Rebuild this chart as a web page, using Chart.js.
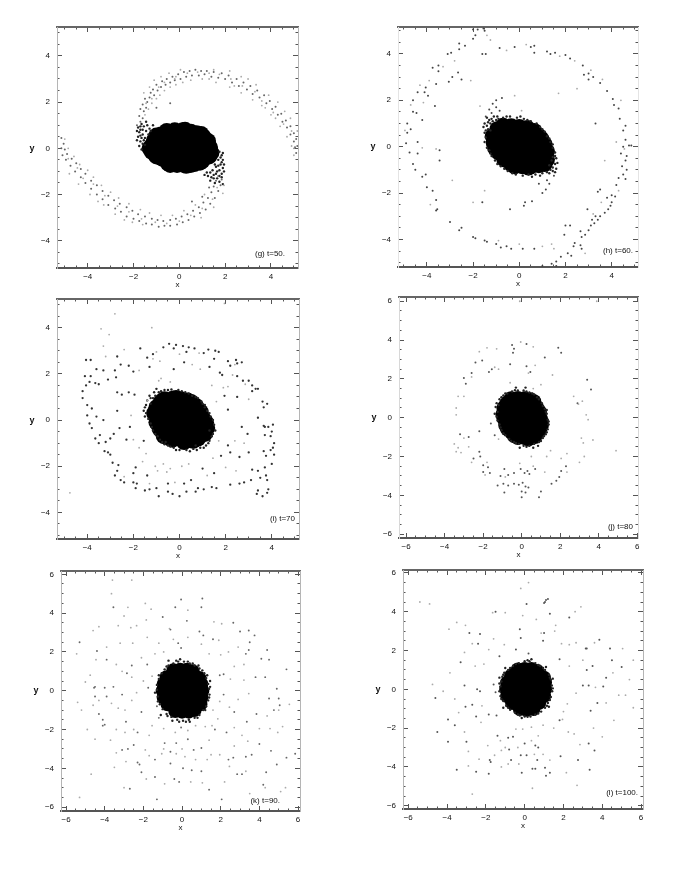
<!DOCTYPE html>
<html>
<head>
<meta charset="utf-8">
<title>t=50 to t=100</title>
<script src="https://cdn.jsdelivr.net/npm/chart.js@4"></script>
<style>
  html, body { margin: 0; background: #fff; }
  body { position: relative; width: 694px; height: 872px; overflow: hidden; }
  canvas { position: absolute; filter: blur(0.5px); }
</style>
</head>
<body>
<script>
// tick values and labels
const majorShort = [-4, -2, 0, 2, 4];
const majorLong = [-6, -4, -2, 0, 2, 4, 6];
const minorShort = [-5, -4.5, -3.5, -3, -2.5, -1.5, -1, -0.5, 0.5, 1, 1.5, 2.5, 3, 3.5, 4.5, 5];
const minorLong = [-5.5, -5, -4.5, -3.5, -3, -2.5, -1.5, -1, -0.5, 0.5, 1, 1.5, 2.5, 3, 3.5, 4.5, 5, 5.5];
const tickLabels = { '-6': '\u22126', '-4': '\u22124', '-2': '\u22122', '0': '0', '2': '2', '4': '4', '6': '6' };

// (g) t=50
const gCore = [[-0.55,0.75],[-0.2,0.78],[0.15,0.78],[0.5,0.72],[0.75,0.65],[-1.1,0.35],[-0.8,0.35],[-0.4,0.35],[0,0.35],[0.4,0.35],[0.8,0.35],[1.1,0.3],[-1.3,0],[-1,0],[-0.6,0],[-0.2,0],[0.2,0],[0.6,0],[1,0],[1.35,-0.05],[-1.0,-0.35],[-0.6,-0.35],[-0.2,-0.35],[0.2,-0.35],[0.6,-0.35],[1.0,-0.35],[1.3,-0.35],[-0.4,-0.72],[-0.1,-0.72],[0.2,-0.72],[0.5,-0.72],[0.9,-0.62],
  [-1.25,0.05],[-1.2,-0.15],[-0.75,-0.45],[-0.5,-0.65],[0.3,-0.76],[0.65,-0.68],[1.0,-0.55],[1.4,-0.2],[1.33,0.05],[1.25,0.2],[0.85,0.6],[0.25,0.8],[-0.8,0.6],[-1.0,0.55],[-1.15,0.2],[1.05,0.5],[0.95,0.62],[1.25,0.32]];
const gEdge = [[-1.8,0.9],[-1.75,0.7],[-1.8,0.5],[-1.7,0.3],[-1.75,0.1],[-1.65,-0.05],[-1.6,0.6],[-1.55,0.95],[-1.4,1.0],[-1.6,0.2],[-1.5,0.45],[-1.3,0.85],[-1.15,1.0],[-1.45,0.75],[-1.7,0.95],[-1.6,0.8],[-1.55,0.35],[-1.35,0.6],[1.85,-0.3],[1.9,-0.5],[1.8,-0.7],[1.9,-0.85],[1.75,-0.95],[1.85,-1.1],[1.6,-0.8],[1.65,-1.0],[1.45,-0.95],[1.5,-1.15],[1.35,-1.05],[1.7,-0.5],[1.75,-0.15],[1.25,-1.2],[1.65,-1.3],[1.8,-0.4],[1.55,-0.7],[1.7,-0.75],[1.75,-1.2],[1.5,-1.3],[-1.65,0.45],[-1.5,0.15],[-1.25,0.75],
  [1.9,-0.2],[1.85,-0.6],[1.95,-0.7],[1.95,-1.0],[1.85,-1.25],[1.6,-1.1],[1.4,-1.25],[1.2,-1.05],[1.1,-1.15],[1.35,-1.4],[1.55,-1.5],[1.75,-1.45],[1.9,-1.55],[-1.85,0.75],[-1.85,0.35],[-1.7,0.55],[-1.7,0.8],[-1.65,1.05],[-1.45,1.15]];
const gDots = [[-1.85,1.0],[-1.7,1.15],[-1.75,1.4],[-1.6,1.3],[-1.55,1.6],[-1.7,1.7],[-1.45,1.75],[-1.6,1.9],[-1.4,2.0],[-1.5,2.15],[-1.3,2.2],[-1.25,2.4],[-1.1,2.3],[-1.15,2.55],[-0.95,2.5],[-1.0,2.75],[-0.8,2.65],[-0.75,2.9],[-0.6,2.75],[-0.55,3.0],[-0.4,2.85],[-0.3,3.1],[-0.2,2.95],[-0.05,3.2],[0.05,3.0],[0.2,3.3],[0.3,3.1],[0.45,3.35],[0.55,3.15],[0.7,3.4],[0.85,3.15],[0.95,3.35],[1.1,3.2],[1.2,3.35],[1.4,3.1],[1.5,3.3],[1.7,3.05],[1.85,3.25],[2.0,3.0],[2.15,3.15],[2.3,2.85],[2.5,3.0],[2.6,2.7],[2.8,2.85],[2.95,2.55],[3.1,2.7],[3.2,2.35],[3.4,2.5],[3.5,2.2],[3.7,2.3],[3.8,1.95],[3.95,2.05],[4.05,1.7],[4.2,1.8],[4.3,1.45],[4.45,1.5],[4.5,1.15],[4.65,1.2],[4.7,0.9],[4.85,0.95],[4.85,0.6],[5.0,0.65],[5.0,0.3],[5.1,0.4],[5.05,0.05],[5.15,0.1],[5.1,-0.2],
  [-5.15,0.45],[-5.05,0.2],[-5.15,0.0],[-5.0,-0.05],[-5.1,-0.3],[-4.9,-0.25],[-4.95,-0.5],[-4.7,-0.45],[-4.75,-0.75],[-4.5,-0.65],[-4.55,-1.0],[-4.3,-0.9],[-4.3,-1.25],[-4.1,-1.1],[-4.1,-1.5],[-3.85,-1.4],[-3.85,-1.75],[-3.6,-1.6],[-3.6,-2.0],[-3.35,-1.85],[-3.35,-2.2],[-3.1,-2.05],[-3.1,-2.45],[-2.85,-2.25],[-2.8,-2.6],[-2.6,-2.4],[-2.55,-2.75],[-2.3,-2.55],[-2.3,-2.95],[-2.05,-2.7],[-2.0,-3.05],[-1.8,-2.85],[-1.75,-3.15],[-1.5,-2.95],[-1.45,-3.25],[-1.2,-3.05],[-1.2,-3.3],[-0.95,-3.1],[-0.9,-3.4],[-0.7,-3.15],[-0.65,-3.35],[-0.4,-3.1],[-0.4,-3.35],[-0.15,-3.05],[-0.1,-3.3],[0.1,-2.95],[0.15,-3.2],[0.35,-2.85],[0.4,-3.1],[0.6,-2.7],[0.65,-2.95],[0.85,-2.55],[0.9,-2.8],[1.05,-2.35],[1.15,-2.65],[1.25,-2.15],[1.35,-2.4],[1.4,-1.9],[1.55,-2.15],[1.5,-1.65],[1.7,-1.85],[1.6,-1.4],[1.8,-1.6],[1.7,-1.2],[1.85,-1.35],[1.3,-1.7],[1.0,-2.1],[0.55,-2.3],[-0.4,1.95],[-1.0,1.75]];
const gFaint = [[-1.35,1.7],[-1.2,1.95],[-1.0,2.15],[-0.85,2.3],[-0.65,2.5],[-0.4,2.65],[-0.15,2.75],[0.15,2.85],[0.5,2.95],[1.0,3.0],[1.6,2.85],[2.2,2.65],[2.7,2.4],[3.2,2.1],[3.6,1.85],[4.0,1.45],[4.4,0.95],[4.7,0.5],[4.9,0.1],[5.0,-0.3],[-5.0,0.4],[-4.85,0.0],[-4.6,-0.35],[-4.35,-0.7],[-4.0,-0.95],[-3.75,-1.25],[-3.4,-1.6],[-3.0,-1.9],[-2.65,-2.15],[-2.2,-2.4],[-1.7,-2.65],[-1.3,-2.8],[-0.8,-2.9],[-0.3,-2.9],[0.2,-2.7],[0.7,-2.45],[1.1,-2.0],[-3.3,-2.45],[-2.8,-2.85],[-2.4,-3.1],[-1.6,-3.3],[2.2,3.35],[3.0,3.0],[3.9,2.3],[4.6,1.6],[-4.8,-1.1],[-4.4,-1.55],[-1.55,2.4],[-1.3,2.65],[-1.1,2.95],[-0.8,3.1],[-0.45,3.25],[0.05,3.4],[1.5,3.4],[2.7,3.1],[3.35,2.75],[4.3,2.0],[4.85,1.3],[5.15,0.75],[-3.9,-2.0],[-3.55,-2.3],[-2.05,-3.2],[0.95,-3.0],[1.5,-2.55],[1.9,-1.95],[1.95,-1.6],[-0.2,3.0],[1.3,3.0],[2.4,2.7],[3.75,1.75],[4.2,1.3],
  [-1.5,1.45],[-1.45,1.95],[-1.2,2.15],[-0.9,2.65],[-0.65,2.85],[-0.15,3.1],[0.35,3.25],[0.8,3.3],[1.3,3.25],[1.75,3.2],[2.25,3.0],[2.75,2.7],[3.3,2.45],[3.6,2.05],[4.1,1.55],[4.55,1.05],[4.9,0.75],[5.0,0.0],[-4.85,-0.45],[-4.45,-0.85],[-4.2,-1.3],[-3.75,-1.55],[-3.25,-2.05],[-2.7,-2.5],[-2.2,-2.75],[-1.65,-3.05],[-1.05,-3.2],[-0.55,-3.25],[0.0,-3.15],[0.5,-2.9],[1.0,-2.6],[1.45,-2.2],[1.65,-1.7]];

// (h) t=60
const hCore = [[-0.7,0.85],[-0.35,0.88],[0,0.85],[0.35,0.8],[-1.05,0.5],[-0.7,0.5],[-0.3,0.5],[0.1,0.5],[0.5,0.5],[0.8,0.45],[-1.1,0.15],[-0.7,0.15],[-0.3,0.15],[0.1,0.15],[0.5,0.15],[0.9,0.15],[1.05,0.05],[-0.85,-0.2],[-0.5,-0.2],[-0.1,-0.2],[0.3,-0.2],[0.7,-0.2],[1.1,-0.2],[-0.6,-0.55],[-0.2,-0.55],[0.2,-0.55],[0.6,-0.55],[1.0,-0.55],[1.15,-0.45],[-0.2,-0.85],[0.15,-0.85],[0.5,-0.85],[0.85,-0.8],
  [-1.15,0.45],[-0.95,0.75],[-0.7,0.9],[0.35,0.72],[0.65,0.68],[0.85,0.45],[1.2,-0.2],[1.2,-0.55],[1.1,-0.75],[0.4,-0.9],[-0.35,-0.75],[-0.65,-0.55],[-0.9,-0.25],[-1.05,-0.05],[-1.1,0.2],[0.95,0.35],[1.1,0.1]];
const hEdge = [[-1.5,0.6],[-1.45,0.4],[-1.5,0.2],[-1.4,0.9],[-1.5,1.0],[-1.3,1.15],[-1.4,1.25],[-1.15,1.1],[-1.1,1.3],[-0.9,1.2],[-0.7,1.25],[-0.4,1.3],[-0.1,1.25],[0.2,1.2],[0.5,1.1],[0.75,1.0],[1.0,0.75],[1.2,0.45],[1.35,0.2],[1.45,-0.05],[1.55,-0.25],[1.6,-0.5],[1.55,-0.75],[1.6,-0.95],[1.45,-0.9],[1.35,-1.0],[1.55,-1.1],[1.2,-1.1],[1.0,-1.15],[0.7,-1.2],[0.4,-1.2],[0.15,-1.25],[-0.15,-1.2],[-0.5,-1.05],[-0.8,-0.85],[-1.05,-0.6],[-1.2,-0.4],[-1.3,-0.15],[-1.25,0.7],[1.4,-0.6],[1.3,-0.8],[1.45,-0.45],[-1.35,0.75],[-1.25,1.0],[-1.0,1.15],
  [-1.55,0.85],[-1.45,0.7],[-1.35,1.05],[-1.2,1.2],[-0.95,1.3],[-0.55,1.3],[0.05,1.3],[0.35,1.15],[0.9,0.85],[1.1,0.65],[1.3,0.35],[1.45,0.1],[1.55,-0.4],[1.65,-0.7],[1.45,-1.05],[1.3,-1.15],[0.9,-1.25],[0.55,-1.3],[-0.3,-1.15],[-0.65,-0.95],[-0.95,-0.75],[-1.25,-0.3],[-1.4,-0.05]];
const hDots = [[-2.0,5.05],[-1.8,5.05],[-1.55,5.1],[-1.5,5.0],[-1.9,4.8],[-2.0,4.65],[-2.6,4.45],[-2.35,4.35],[-2.6,4.2],[-2.95,4.05],[-3.1,4.0],[-1.6,4.0],[-1.45,4.0],[-0.85,4.25],[-0.2,4.3],[0.5,4.3],[0.65,4.35],[0.65,4.05],[1.2,4.1],[1.55,4.05],[1.35,4.0],[2.0,3.95],[2.2,3.8],[2.75,3.5],[2.8,3.1],[3.0,3.15],[3.2,3.0],[3.0,2.9],[3.5,2.75],[3.8,2.4],[4.05,2.05],[4.1,1.8],[4.3,1.65],[4.35,1.2],[4.6,0.9],[4.5,0.7],[4.6,0.3],[4.75,0.05],[4.5,0.0],[4.85,0.05],[4.4,-0.3],[4.65,-0.4],[4.6,-0.6],[4.45,-0.85],[4.65,-1.0],[4.5,-1.2],[4.3,-1.35],[4.6,-1.4],[4.2,-1.65],[4.0,-2.1],[4.15,-2.15],[3.8,-2.2],[4.0,-2.4],[3.95,-2.55],[3.85,-2.7],[3.7,-2.85],[3.5,-3.0],[3.4,-3.15],[3.3,-3.0],[3.15,-3.15],[3.25,-3.3],[3.1,-3.4],[2.95,-2.7],[3.0,-3.6],[2.85,-3.8],[2.65,-3.65],[2.7,-3.9],[2.0,-3.4],[2.2,-3.4],[1.95,-3.8],[2.4,-4.15],[2.35,-4.3],[2.65,-4.25],[2.7,-4.4],[2.1,-4.6],[2.25,-4.7],[1.8,-4.75],[1.6,-4.95],[1.4,-5.05],[1.6,-5.15],[1.0,-5.15],[3.5,-1.85],[3.4,-1.95],[3.3,1.0],
  [-3.0,-3.25],[-2.5,-3.5],[-2.6,-3.6],[-2.0,-3.9],[-1.9,-3.95],[-1.5,-4.05],[-1.4,-4.1],[-1.0,-4.2],[-0.8,-4.35],[-0.55,-4.3],[-0.35,-4.4],[0.15,-4.4],[0.65,-4.4],[-1.6,-2.4],[-0.4,-2.7],[0.2,-2.55],[0.25,-2.4],[0.55,-2.35],[1.0,-2.0],[1.15,-1.85],[1.2,-1.45],[0.85,-1.6],[1.3,-1.6],[1.5,-1.25],[-0.75,2.1],[-1.0,2.0],[-1.15,1.85],[-1.3,1.6],[-1.0,1.7],[-1.2,1.45],[-0.85,1.55],[-1.45,1.3],
  [-4.9,0.15],[-4.75,-0.25],[-4.4,-0.3],[-4.6,-0.75],[-4.5,-1.0],[-4.2,-1.3],[-4.05,-1.2],[-4.0,-1.75],[-3.75,-1.9],[-3.6,-2.3],[-3.55,-2.7],[-3.6,-2.75],[-4.85,0.6],[-4.7,0.75],[-4.85,1.0],[-4.6,1.5],[-4.45,1.45],[-4.2,1.15],[-4.6,2.0],[-4.4,2.35],[-4.1,2.35],[-4.05,2.55],[-3.95,2.2],[-3.6,2.7],[-3.75,3.4],[-3.5,3.5],[-3.05,2.8],[-2.9,3.0],[-2.65,3.2],[-2.5,2.9],[-3.65,1.75],[-3.45,-0.6],[-3.45,-0.15],[-3.5,3.25],[-4.4,0.2]];
const hFaint = [[-1.25,4.6],[-1.4,4.8],[-2.8,3.7],[-3.3,3.45],[-3.9,2.85],[-4.3,2.65],[-4.7,1.8],[-4.95,0.7],[-4.2,-0.05],[-3.6,-0.1],[-2.9,-1.45],[-3.85,-2.5],[-2.0,-2.4],[-0.9,-4.05],[0.0,-4.2],[1.0,-4.3],[1.4,-4.2],[0.3,4.4],[-0.55,4.15],[1.75,3.9],[2.4,3.7],[3.1,3.3],[3.6,2.9],[2.5,2.5],[1.7,2.3],[4.4,2.0],[4.55,-0.1],[4.2,0.2],[3.7,-0.6],[4.3,-1.9],[3.55,-2.4],[3.2,-2.9],[1.5,-4.4],[2.85,-4.6],[0.1,1.55],[-1.7,1.75],[-0.2,2.2],[-1.5,-1.9],[-2.1,2.85],[-4.15,1.9]];

// (i) t=70
const iCore = [[-0.65,0.9],[-0.3,0.92],[0.05,0.9],[0.35,0.85],[-1.0,0.55],[-0.65,0.55],[-0.25,0.55],[0.15,0.55],[0.55,0.55],[0.75,0.5],[-1.05,0.2],[-0.7,0.2],[-0.3,0.2],[0.1,0.2],[0.5,0.2],[0.9,0.2],[1.0,0.1],[-0.95,-0.15],[-0.55,-0.15],[-0.15,-0.15],[0.25,-0.15],[0.65,-0.15],[1.1,-0.15],[-0.7,-0.5],[-0.3,-0.5],[0.1,-0.5],[0.5,-0.5],[0.9,-0.5],[1.1,-0.4],[-0.3,-0.85],[0.1,-0.85],[0.45,-0.85],[0.8,-0.8],
  [-1.1,0.3],[-0.8,0.8],[-0.15,0.95],[0.5,0.78],[0.7,0.62],[0.92,0.35],[1.15,-0.1],[1.2,-0.35],[1.1,-0.6],[0.6,-0.9],[0.2,-0.95],[-0.4,-0.8],[-0.85,-0.4],[-1.0,-0.1],[-0.68,-0.7]];
const iEdge = [[-1.45,0.3],[-1.5,0.55],[-1.4,0.85],[-1.3,1.05],[-1.1,1.2],[-0.9,1.2],[-0.65,1.3],[-0.35,1.32],[-0.05,1.3],[0.25,1.2],[0.55,1.05],[0.8,0.95],[1.0,0.7],[1.2,0.4],[1.35,0.15],[1.5,-0.2],[1.55,-0.45],[1.4,-0.7],[1.3,-0.9],[1.15,-1.1],[0.9,-1.2],[0.6,-1.25],[0.3,-1.3],[0,-1.3],[-0.25,-1.2],[-0.5,-1.1],[-0.75,-0.95],[-0.95,-0.7],[-1.15,-0.45],[-1.25,-0.15],[-1.35,0.05],[-1.25,0.7],[-1.0,1.35],[1.3,-0.45],[-1.15,0.95],[1.1,0.55],[0.7,-1.1],[-0.6,-0.95],
  [-1.5,0.15],[-1.55,0.4],[-1.45,0.65],[-1.25,0.95],[-1.05,1.05],[-0.8,1.25],[-0.5,1.3],[0.1,1.25],[0.4,1.15],[0.7,1.0],[0.95,0.8],[1.1,0.65],[1.3,0.3],[1.45,0.0],[1.45,-0.6],[1.25,-1.0],[1.05,-1.2],[0.75,-1.3],[0.45,-1.35],[-0.15,-1.3],[-0.4,-1.15],[-0.65,-1.05],[-0.85,-0.85],[-1.05,-0.6],[-1.2,-0.3]];
const iDots = [[-0.45,3.3],[-0.15,3.25],[0.15,3.2],[0.4,3.15],[0.65,3.1],[1.25,3.05],[1.7,2.95],[-0.7,3.15],[-0.25,3.1],[0.3,2.95],[1.05,2.9],[1.5,2.65],[1.55,3.0],[2.1,2.55],[2.45,2.6],[2.5,2.45],[2.7,2.5],[2.2,2.35],[-1.7,3.1],[-1.15,2.85],[-1.4,2.7],[-2.7,2.75],[-2.55,2.4],[-2.2,2.35],[-2.8,2.15],[-2.75,1.85],[-2.0,2.1],[-1.3,2.3],[-0.25,2.2],[0.2,2.5],[1.3,2.3],[1.75,2.05],[1.85,1.95],[2.5,1.9],[2.75,1.7],[3.0,1.7],[3.15,1.5],[3.3,1.35],[3.4,1.35],[3.15,1.25],[1.95,1.05],[2.5,1.0],[3.6,0.8],[3.8,0.7],[3.65,0.55],[3.4,0.1],[3.65,-0.25],[3.85,-0.3],[3.7,-0.3],[4.05,-0.2],[4.0,-0.5],[3.7,-0.65],[3.95,-0.7],[4.1,-1.0],[4.05,-1.2],[3.95,-1.3],[4.1,-1.5],[3.65,-1.35],[3.75,-1.55],[4.0,-1.9],[3.7,-2.05],[3.4,-2.2],[3.15,-2.15],[3.5,-2.5],[3.1,-2.6],[2.8,-2.7],[3.75,-2.4],[3.8,-2.6],[3.85,-3.0],[3.4,-3.05],[3.35,-3.2],[3.6,-3.3],[3.8,-3.15],[2.2,-2.8],[2.6,-2.75],[1.6,-2.95],[1.4,-2.9],[1.05,-3.0],[0.8,-2.95],[0.7,-3.1],[0.0,-3.3],[0.3,-3.1],[-0.3,-3.2],[-0.5,-3.1],[-0.9,-3.3],[-1.0,-2.95],[-1.3,-3.0],[-1.5,-3.05],[-1.9,-2.95],[-2.0,-2.7],[-2.4,-2.7],[-2.0,-2.3],[-2.7,-2.2],[-2.65,-1.95],[-2.9,-1.85],[-3.0,-1.5],[-3.1,-1.4],[-3.25,-1.35],[-3.5,-1.0],[-3.65,-0.8],[-3.45,-0.65],[-3.8,-0.35],[-3.9,-0.15],[-4.0,0.2],[-3.6,0.15],[-3.3,0],[-3.8,0.5],[-4.0,0.65],[-4.2,0.95],[-4.2,1.25],[-4.05,1.5],[-3.9,1.65],[-3.65,1.6],[-3.85,1.9],[-4.1,1.9],[-4.05,2.6],[-3.85,2.6],[-3.6,2.2],[-3.5,1.55],[-3.3,2.15],[-3.1,1.75],[-2.7,0.4],[-2.6,-0.35],[-2.85,-0.6],[-3.2,-0.95],[-3.0,-0.8],[-2.15,-0.3],[-2.5,1.1],[-2.7,1.2],[-2.3,-0.85],[-1.55,-0.9],[-1.95,1.1],[-2.2,1.2],[2.1,-1.1],[2.2,-1.4],[1.8,-1.55],[2.6,-1.6],[3.0,-1.4],[1,-2.1],[1.5,-2.3],[0.5,-2.6],[0.2,-2.75],[-0.5,-2.75],[-1.4,-2.4],[-1.9,-2.05],[-2.8,-2.4],[-2.55,-2.6],[-1.85,-2.75],[2.1,0.45],[2.7,-0.3],[2.95,-0.6]];
const iFaint = [[-2.8,4.6],[-3.4,3.95],[-3.05,3.7],[-1.2,4.0],[-4.75,-3.15],[1.95,5.05],[-1.75,2.15],[-2.4,3.05],[0,2.85],[0.85,2.9],[2.4,2.4],[-1.15,2.65],[-0.85,2.55],[0.55,2.4],[0.9,2.2],[2.85,1.55],[2.1,1.45],[1.9,1.4],[3.0,0.9],[1.6,0.8],[-1.4,0.85],[-0.9,1.7],[-0.8,1.8],[-0.4,1.65],[-1.45,-1.45],[1.45,-1.65],[-0.7,-1.9],[-0.4,-2.1],[0.1,-2.0],[0.4,-1.9],[1.2,-2.4],[-0.2,-2.7],[-1.6,-1.8],[-2.4,-2.45],[-1.3,-2.75],[-2.0,-0.85],[-2.1,0.2],[-1.05,-2.0],[-0.95,-2.2],[-0.55,-2.25],[2.3,1.95],[-1.0,2.95],[-3.2,2.75],[-3.3,3.2],[1.7,-0.9],[2.4,-0.9],[2.8,-1.0],[2.0,-2.05],[2.45,-2.2],[-1.75,-1.2],[1.4,1.5]];

// (j) t=80
const jCore = [[-0.55,1.0],[-0.2,1.02],[0.15,1.0],[0.45,0.95],[-0.85,0.65],[-0.5,0.65],[-0.15,0.65],[0.2,0.65],[0.55,0.65],[0.75,0.6],[-0.95,0.3],[-0.6,0.3],[-0.2,0.3],[0.2,0.3],[0.6,0.3],[0.95,0.3],[-0.95,-0.05],[-0.55,-0.05],[-0.15,-0.05],[0.25,-0.05],[0.65,-0.05],[1.0,-0.05],[-0.85,-0.4],[-0.45,-0.4],[-0.05,-0.4],[0.35,-0.4],[0.75,-0.4],[1.05,-0.4],[-0.55,-0.75],[-0.2,-0.75],[0.15,-0.75],[0.5,-0.75],[0.85,-0.75],[-0.2,-1.05],[0.15,-1.05],[0.5,-1.05],
  [-1.0,0.15],[-0.95,0.5],[-0.75,0.8],[0.75,-0.85],[0.95,-0.65],[1.05,-0.2],[-0.75,-0.6],[0.35,-1.12],[0.7,-1.0],[-0.4,-0.95],[0.65,0.85],[0.85,0.45]];
const jEdge = [[-1.35,0.55],[-1.3,0.75],[-1.25,0.3],[-1.3,0.05],[-1.15,0.95],[-0.95,1.15],[-0.75,1.25],[-0.5,1.35],[-0.2,1.4],[0.1,1.4],[0.4,1.3],[0.65,1.2],[0.9,0.95],[1.05,0.75],[1.2,0.45],[1.3,0.2],[1.35,-0.1],[1.4,-0.35],[1.35,-0.6],[1.25,-0.85],[1.1,-1.05],[0.9,-1.25],[0.65,-1.35],[0.4,-1.45],[0.1,-1.45],[-0.15,-1.35],[-0.4,-1.25],[-0.65,-1.1],[-0.85,-0.9],[-1.05,-0.65],[-1.15,-0.35],[-1.25,-0.15],[-0.3,1.55],[0.2,1.55],[0.85,-1.45],[-0.1,-1.55],[0.6,-1.55],[-1.4,0.2],[1.3,0.4],
  [-1.2,0.65],[-1.05,1.05],[-0.85,1.25],[-0.35,1.42],[0.25,1.35],[0.55,1.25],[0.8,1.05],[1.1,0.6],[1.25,0.3],[1.4,-0.2],[1.3,-0.75],[1.15,-0.95],[1.0,-1.2],[0.25,-1.5],[-0.3,-1.3],[-0.55,-1.2],[-0.95,-0.8],[-1.1,-0.5]];
const jDots = [[-0.5,3.75],[-0.4,3.55],[-0.45,3.35],[0.25,3.8],[1.9,3.6],[2.05,3.35],[1.2,3.1],[-2.05,2.95],[-2.4,2.85],[-1.55,2.5],[-0.6,2.75],[0.25,2.65],[0.45,2.35],[-2.6,2.3],[-3.0,2.05],[-2.9,1.75],[-1.7,2.35],[-2.2,-0.7],[-3.2,-0.85],[-2.75,-1.0],[-2.2,-1.75],[-2.15,-2.0],[-2.5,-2.1],[-2.0,-2.45],[-1.75,-2.55],[-2.0,-2.8],[-1.65,-2.85],[-1.1,-3.0],[-0.9,-2.65],[-1.25,-3.5],[-0.9,-3.85],[-0.95,-3.4],[-0.7,-3.5],[-0.4,-3.4],[-0.15,-3.45],[0.05,-3.35],[0.2,-3.55],[0.35,-3.6],[0,-3.8],[0.2,-3.85],[0,-4.1],[0.9,-4.1],[1.0,-3.8],[0.4,-2.9],[0.7,-2.65],[0.3,-2.75],[-0.05,-2.65],[0.15,-2.85],[-0.4,-2.85],[-0.7,-2.95],[1.55,-3.4],[1.8,-3.25],[1.95,-3.05],[2.05,-2.75],[2.3,-2.5],[2.9,0.75],[3.6,1.45],[3.4,1.95],[-1.6,-0.3],[-1.4,-0.9]];
const jFaint = [[-1.3,3.55],[-0.05,3.9],[0.6,3.65],[-1.4,2.6],[-1.2,2.5],[0.35,2.3],[0.7,2.7],[1.6,2.2],[-2.6,2.1],[-3.3,1.1],[-3.0,1.1],[-3.4,0.5],[-3.4,0.15],[-3.0,-1.05],[-3.5,-1.35],[-3.3,-1.55],[-3.4,-1.75],[-3.15,-1.8],[-2.75,-1.5],[-2.6,-2.3],[-1.8,-2.3],[-1.9,-2.95],[-0.85,-3.05],[-0.1,-2.35],[0.6,-2.5],[1.2,-2.8],[2.35,-2.8],[2.05,-2.1],[2.35,-1.85],[3.0,-2.3],[3.25,-2.0],[3.1,-1.05],[3.2,-1.3],[3.7,-1.15],[3.45,-0.1],[3.35,0.15],[2.95,0.7],[3.15,0.85],[4.9,-1.7],[-0.1,6.0],[3.9,6.0],[-1.2,-1.1],[1.3,-2.0],[0.5,-2.0],[2.7,1.1],[-1.8,3.6],[-2.2,3.4],[1.5,-1.7],[-0.6,1.8],[1.0,1.7],[0.6,1.5]];

// (k) t=90
const kCore = [[-0.45,1.05],[-0.1,1.08],[0.25,1.08],[0.55,1.0],[-0.8,0.7],[-0.45,0.7],[-0.1,0.7],[0.25,0.7],[0.6,0.7],[0.9,0.65],[-0.95,0.35],[-0.6,0.35],[-0.2,0.35],[0.2,0.35],[0.6,0.35],[1.0,0.35],[-1,0],[-0.6,0],[-0.2,0],[0.2,0],[0.6,0],[1.05,0],[-0.95,-0.35],[-0.55,-0.35],[-0.15,-0.35],[0.25,-0.35],[0.65,-0.35],[1.0,-0.35],[-0.75,-0.7],[-0.4,-0.7],[0,-0.7],[0.35,-0.7],[0.7,-0.7],[0.95,-0.7],[-0.35,-1.05],[0,-1.08],[0.35,-1.08],[0.65,-1.0]];
const kEdge = [[-1.3,0.05],[-1.3,0.3],[-1.25,-0.3],[-1.2,0.6],[-1.05,0.9],[-0.9,1.1],[-0.7,1.3],[-0.45,1.4],[-0.2,1.5],[0.1,1.5],[0.4,1.4],[0.65,1.3],[0.9,1.15],[1.15,0.9],[1.25,0.65],[1.35,0.35],[1.4,0.1],[1.42,-0.2],[1.35,-0.5],[1.25,-0.8],[1.1,-1.0],[0.9,-1.25],[0.65,-1.4],[0.35,-1.5],[0.05,-1.55],[-0.25,-1.5],[-0.55,-1.35],[-0.8,-1.2],[-1.0,-0.95],[-1.15,-0.7],[-1.4,-0.1],[-0.1,1.62],[-0.7,1.55],[0.85,1.3],[-1.1,-1.25],[1.45,0.5],[-0.5,-1.55],[0.4,-1.6],
  [-1.2,0.8],[-0.8,1.25],[-0.3,1.55],[0.3,1.5],[0.55,1.4],[1.05,1.05],[1.3,0.8],[1.45,0.2],[1.4,-0.35],[1.2,-1.0],[0.8,-1.4],[0.2,-1.6],[-0.15,-1.6],[-0.75,-1.3],[-1.25,-0.55]];
const kDots = [[-0.05,4.7],[1.05,4.75],[-0.35,4.3],[1.0,4.3],[-3.55,4.3],[0.25,3.6],[-1.0,3.8],[-0.6,3.15],[1.1,2.85],[1.6,2.65],[0.9,3.05],[-0.05,2.2],[-0.2,2.45],[3.0,3.05],[3.45,3.1],[3.75,2.85],[3.5,2.5],[3.45,2.1],[3.3,1.9],[2.65,3.5],[4.4,2.1],[4.5,1.6],[4.1,1.65],[3.8,0.7],[4.3,0.7],[4.9,0.1],[5.4,1.1],[4.5,-0.4],[5.0,-0.4],[5.05,-0.75],[4.75,-1.0],[-4.4,2.05],[-3.9,1.6],[-5.3,2.5],[-4.5,0.2],[-4.55,0.15],[-4.0,0.15],[-3.55,0.2],[-3.9,-0.3],[-4.5,-0.3],[-4.3,-1.2],[-4.1,-1.5],[-4.1,-1.8],[-4.0,-1.75],[-3.1,-0.2],[-2.1,-1.1],[-1.3,-0.8],[-1.75,0.15],[-1.8,1.35],[-2.6,1.3],[-2.85,0.9],[-2.9,-1.6],[-3.1,-3.05],[-2.5,-2.8],[-2.3,-3.7],[-2.2,-3.8],[-2.1,-4.2],[-1.4,-3.55],[-1.4,-4.45],[-0.9,-2.7],[-0.6,-3.15],[-0.6,-3.75],[-0.4,-4.55],[-0.15,-4.7],[0.05,-4.0],[0.5,-4.1],[1.0,-4.15],[1.4,-5.1],[2.05,-5.6],[-1.3,-5.6],[-2.7,-5.05],[0.3,-2.5],[-0.3,-2.7],[0.6,-3.05],[1.0,-2.95],[1.7,-2.0],[2.3,-2.15],[2.4,-3.55],[2.65,-3.45],[3.3,-3.4],[3.6,-3.3],[4.0,-2.75],[4.6,-3.1],[4.9,-3.8],[5.4,-3.45],[5.85,-3.25],[3.35,-1.6],[3.85,-1.2],[2.7,-1.1],[2.15,-0.2],[-1.2,-1.4],[-2.3,-2.15],[-2.8,-3.0],[-0.05,-1.9],[1.95,0.8],[2.15,0.85],[4.35,-4.2],[4.2,-4.85],[3.1,-4.3],[2.85,-4.3]];
const kFaint = [[-3.6,5.7],[-3.65,5.0],[-2.6,5.7],[-3.0,3.85],[-2.8,4.3],[-1.9,4.5],[-1.6,4.2],[-1.85,3.65],[-2.35,3.35],[-2.65,3.25],[-3.3,3.35],[-4.3,3.3],[-4.6,3.1],[-0.65,3.2],[0.3,4.15],[1.65,3.55],[2.05,3.45],[1.9,2.6],[1.0,2.4],[0.3,2.75],[-0.45,2.65],[-1.2,2.45],[-1.8,2.75],[-2.55,2.45],[-3.2,2.45],[-3.9,2.25],[-4.45,1.6],[-4.75,0.8],[-5.0,0.45],[-5.4,-0.6],[-5.2,-1.0],[-4.6,-0.75],[-4.3,-0.5],[-3.65,-0.65],[-3.3,-0.9],[-2.95,-1.0],[-2.6,-0.5],[-2.35,-0.1],[-2.0,0.5],[-1.55,0.75],[-2.6,0.7],[-3.1,1.0],[-3.4,1.35],[-2.1,1.7],[-1.4,1.9],[-0.95,2.0],[1.4,1.9],[2.0,1.85],[2.4,2.0],[2.9,2.25],[2.7,1.25],[3.2,1.35],[2.5,0.6],[3.2,0.55],[3.45,-0.15],[2.9,-0.45],[1.95,-0.55],[2.45,-0.85],[1.6,-1.0],[1.85,-1.45],[1.55,-1.8],[1.2,-1.85],[0.7,-1.8],[0.3,-2.05],[-0.35,-2.15],[-0.95,-1.95],[-1.55,-1.8],[-1.7,-2.3],[-2.5,-2.0],[-2.95,-2.15],[-3.4,-2.0],[-3.7,-2.55],[-3.4,-3.2],[-2.9,-3.65],[-1.9,-3.05],[-1.7,-3.35],[-1.05,-3.25],[-0.95,-3.0],[-0.3,-3.25],[0,-3.0],[0.15,-3.4],[0.7,-3.55],[1.3,-3.55],[1.5,-3.3],[1.95,-3.3],[1.4,-2.55],[2.7,-2.85],[3.4,-2.6],[3.1,-2.3],[2.7,-1.9],[4.0,-1.95],[4.55,-1.95],[4.95,-2.15],[5.2,-1.85],[5.55,-0.7],[5.0,-1.0],[4.4,-1.3],[3.3,-4.15],[2.45,-3.9],[2.2,-4.7],[1.05,-4.75],[0.45,-4.7],[-0.9,-4.8],[-1.85,-4.55],[-3.0,-5.0],[-3.5,-3.95],[-4.7,-4.3],[-5.3,-5.5],[5.1,-5.2],[5.35,-5.0],[4.3,-5.0],[3.5,-5.3],[-4.9,-2.0],[-4.5,-2.5],[-5.45,1.9]];

// (l) t=100
const lCore = [[-0.35,1.02],[0,1.05],[0.35,1.05],[0.65,0.95],[-0.7,0.7],[-0.35,0.7],[0,0.7],[0.35,0.7],[0.7,0.7],[1.0,0.6],[-0.9,0.35],[-0.5,0.35],[-0.1,0.35],[0.3,0.35],[0.7,0.35],[1.05,0.35],[-0.95,0],[-0.55,0],[-0.15,0],[0.25,0],[0.65,0],[1.05,0],[-0.9,-0.35],[-0.5,-0.35],[-0.1,-0.35],[0.3,-0.35],[0.7,-0.35],[1.0,-0.35],[-0.65,-0.7],[-0.3,-0.7],[0.05,-0.7],[0.4,-0.7],[0.75,-0.7],[-0.25,-1.02],[0.1,-1.05],[0.45,-1.02]];
const lEdge = [[-1.25,0.15],[-1.3,-0.1],[-1.2,0.4],[-1.15,0.65],[-1.05,0.85],[-0.85,1.0],[-0.6,1.2],[-0.3,1.35],[0,1.45],[0.25,1.45],[0.55,1.35],[0.8,1.2],[1.05,1.0],[1.25,0.75],[1.35,0.5],[1.4,0.2],[1.42,-0.1],[1.35,-0.4],[1.2,-0.7],[1.05,-0.95],[0.85,-1.15],[0.55,-1.3],[0.3,-1.4],[0,-1.4],[-0.25,-1.35],[-0.5,-1.2],[-0.75,-1.05],[-0.95,-0.85],[-1.1,-0.6],[-1.25,-0.35],[1.45,0.55],[1.25,-0.9],[-1.1,-0.95],[-0.15,-1.48],[-1.3,0.6],[0.35,1.55],[-1.0,1.1],[1.1,1.15],
  [-1.3,0.3],[-1.1,0.75],[-0.75,1.1],[-0.45,1.3],[0.15,1.5],[0.7,1.25],[0.95,1.1],[1.3,0.6],[1.45,0.05],[1.3,-0.55],[1.15,-0.85],[0.7,-1.25],[0.15,-1.42],[-0.35,-1.3],[-0.85,-0.95],[-1.2,-0.5]];
const lDots = [[1.05,4.5],[1.1,4.6],[1.2,4.65],[1.0,4.45],[0.1,4.4],[1.3,3.9],[2.3,3.7],[-1.5,4.0],[-0.25,3.1],[-2.85,2.9],[-2.3,2.85],[-2.4,2.35],[-0.2,2.65],[1.0,2.9],[0.95,2.5],[3.15,2.1],[3.2,2.1],[-3.3,1.4],[-1.3,1.7],[-0.45,2.05],[0.2,1.85],[1.8,1.55],[3.2,1.0],[3.5,1.2],[-3.1,0.2],[-2.45,0],[-2.3,-0.1],[-1.6,0.25],[-1.5,-0.15],[3.0,0.2],[3.3,0.2],[4.05,0.15],[-4.6,-0.45],[-3.05,-0.9],[-2.7,-0.8],[-2.5,-1.4],[-3.95,-1.55],[-3.6,-1.85],[-1.85,-1.3],[-1.45,-1.35],[-3.95,-2.7],[-4.5,-2.2],[-1.8,-3.65],[-1.75,-3.75],[-0.8,-3.1],[-0.7,-3.65],[-0.2,-3.4],[0.1,-3.4],[0.65,-3.65],[1.05,-4.05],[0.55,-4.1],[0.4,-4.1],[1.3,-4.3],[1.1,-4.45],[-0.15,-4.3],[-1.85,-4.35],[-2.5,-4.25],[-3.5,-4.15],[3.35,-4.15],[2.75,-3.65],[1.85,-3.45],[3.6,-3.15],[3.3,-2.8],[0.55,-2.9],[0.7,-3.0],[0.0,-2.8],[-0.6,-2.45],[-0.85,-2.5],[-1.4,-2.4],[-3.0,-2.7],[1.8,-1.6],[3.4,-1.1],[3.75,-0.7],[4.2,0.6],[4.5,1.5],[5.0,1.15],[4.4,2.1],[3.85,2.55]];
const lFaint = [[-5.4,4.5],[-4.9,4.4],[-3.5,3.45],[-3.05,3.3],[-1.65,3.95],[-1.0,3.95],[-0.1,3.8],[0.6,3.6],[1.55,3.0],[1.6,3.3],[2.6,4.0],[2.9,4.25],[-0.2,5.2],[0.2,5.5],[0.85,2.9],[-2.7,2.35],[-1.85,2.05],[-1.05,2.3],[-1.6,2.6],[1.9,2.35],[2.3,2.3],[2.65,2.4],[3.6,2.4],[3.0,1.5],[2.3,1.2],[-3.1,1.9],[-2.55,1.2],[-2.1,1.3],[-3.85,0.85],[-4.75,0.25],[-4.2,-0.1],[-3.6,-0.5],[-2.2,-0.85],[-3.4,-1.2],[-2.25,-1.7],[-3.1,-2.2],[-2.9,-3.2],[-1.9,-2.9],[-1.25,-2.65],[-1.0,-3.0],[-0.45,-2.05],[-0.1,-2.05],[0.35,-1.95],[0.95,-1.85],[1.5,-2.0],[1.95,-1.55],[2.25,-2.2],[2.55,-2.3],[2.85,-2.85],[3.55,-2.0],[4.0,-2.45],[4.6,-1.6],[5.6,-0.95],[5.2,-0.3],[4.85,-0.3],[4.2,-0.7],[2.65,-0.2],[2.2,-0.75],[2.0,-1.15],[0.7,-2.4],[0.35,-2.65],[-0.35,-3.0],[-1.2,-3.15],[-1.55,-3.4],[-2.35,-3.6],[-2.9,-3.95],[-1.2,-4.0],[-0.85,-3.85],[-0.3,-3.85],[0.5,-3.35],[0.95,-3.35],[1.3,-3.65],[2.15,-4.3],[0.4,-5.1],[-2.7,-5.4],[2.7,-4.95],[-3.9,3.1],[5.05,2.1],[5.6,1.5],[5.4,0.5],[4.55,0.85],[3.65,0.1]];

const panels = [
  { caption: '(g) t=50.', frame: [57, 27, 298, 268], lim: [-5.34, 5.18, -5.18, 5.25], major: majorShort, minor: minorShort, capAt: [13, 14], side: '#b5b5b5', dotColor: '#666', dotR: 1, coreR: 8, core: gCore, edge: gEdge, dots: gDots, faint: gFaint },
  { caption: '(h) t=60.', frame: [398, 27, 638, 267], lim: [-5.25, 5.14, -5.19, 5.16], major: majorShort, minor: minorShort, capAt: [5, 16], side: '#e4e4e4', dotColor: '#444', dotR: 1, coreR: 8, core: hCore, edge: hEdge, dots: hDots, faint: hFaint },
  { caption: '(i) t=70', frame: [57, 299, 299, 539], lim: [-5.31, 5.18, -5.15, 5.24], major: majorShort, minor: minorShort, capAt: [4, 20], side: '#b5b5b5', dotColor: '#333', dotR: 1.15, coreR: 8, core: iCore, edge: iEdge, dots: iDots, faint: iFaint },
  { caption: '(j) t=80', frame: [399, 297, 638, 538], lim: [-6.37, 6.04, -6.2, 6.22], major: majorLong, minor: minorLong, capAt: [5, 11], side: '#d8d8d8', dotColor: '#555', dotR: 1, coreR: 7, core: jCore, edge: jEdge, dots: jDots, faint: jFaint },
  { caption: '(k) t=90.', frame: [61, 571, 300, 811], lim: [-6.26, 6.1, -6.2, 6.17], major: majorLong, minor: minorLong, capAt: [20, 10], side: '#b5b5b5', dotColor: '#666', dotR: 0.95, coreR: 7, core: kCore, edge: kEdge, dots: kDots, faint: kFaint },
  { caption: '(l) t=100.', frame: [403, 570, 643, 809], lim: [-6.27, 6.1, -6.17, 6.15], major: majorLong, minor: minorLong, capAt: [5, 16], side: '#b5b5b5', dotColor: '#555', dotR: 1, coreR: 7, core: lCore, edge: lEdge, dots: lDots, faint: lFaint }
];

const FONT = { family: '"Liberation Sans", Arial, sans-serif', size: 8 };
const toXY = arr => arr.map(p => ({ x: p[0], y: p[1] }));

// one scale; the ones without labels take no room in the layout
function axis(position, values, length, min, max, extra) {
  const horizontal = position === 'top' || position === 'bottom';
  return Object.assign({
    type: 'linear',
    axis: horizontal ? 'x' : 'y',
    position, min, max,
    weight: 0,
    afterBuildTicks: s => { s.ticks = values.map(value => ({ value })); },
    afterFit: s => {
      if (horizontal) s.height = 0; else s.width = 0;
      s.paddingLeft = s.paddingRight = s.paddingTop = s.paddingBottom = 0;
    },
    border: { display: false },
    grid: { drawOnChartArea: false, drawTicks: true, tickLength: -length, tickColor: '#555', tickWidth: 1 },
    ticks: { display: false, autoSkip: false, maxRotation: 0 }
  }, extra);
}

const panelText = {
  id: 'panelText',
  afterDraw(chart, args, opts) {
    const ctx = chart.ctx, area = chart.chartArea;
    ctx.save();
    ctx.fillStyle = '#111';
    ctx.font = '8px "Liberation Sans", Arial, sans-serif';
    ctx.textBaseline = 'middle';
    ctx.textAlign = 'right';
    ctx.fillText(opts.caption, area.right - opts.capAt[0], area.bottom - opts.capAt[1]);
    ctx.textAlign = 'center';
    ctx.font = 'bold 9px "Liberation Sans", Arial, sans-serif';
    ctx.fillText('y', area.left - 25, chart.scales.y.getPixelForValue(0));
    ctx.restore();
  }
};

const LEFT = 36, BOTTOM = 22, PAD = 4;

panels.forEach(p => {
  const [l, t, r, b] = p.frame;
  const [x0, x1, y0, y1] = p.lim;
  const canvas = document.createElement('canvas');
  canvas.width = r - l + LEFT + PAD;
  canvas.height = b - t + BOTTOM + PAD;
  canvas.style.left = (l - LEFT) + 'px';
  canvas.style.top = (t - PAD) + 'px';
  document.body.appendChild(canvas);

  const label = v => tickLabels[String(v)] || '';
  const line = (width, color) => ({ display: true, width, color });

  new Chart(canvas, {
    type: 'scatter',
    data: {
      datasets: [
        { label: 'faint', data: toXY(p.faint), pointRadius: 0.9, backgroundColor: '#aaa', borderWidth: 0 },
        { label: 'dots', data: toXY(p.dots), pointRadius: p.dotR, backgroundColor: p.dotColor, borderWidth: 0 },
        { label: 'edge', data: toXY(p.edge), pointRadius: 1.2, backgroundColor: '#222', borderWidth: 0 },
        { label: 'core', data: toXY(p.core), pointRadius: p.coreR, backgroundColor: '#000', borderWidth: 0 }
      ]
    },
    options: {
      responsive: false,
      animation: false,
      layout: { autoPadding: false, padding: { top: PAD, right: PAD, left: 0, bottom: 0 } },
      plugins: { legend: { display: false }, tooltip: { enabled: false }, panelText: { caption: p.caption, capAt: p.capAt } },
      scales: {
        x: axis('bottom', p.major, 5, x0, x1, {
          weight: 1,
          afterFit: s => { s.height = BOTTOM; s.paddingLeft = s.paddingRight = 0; },
          border: line(2, '#555'),
          ticks: { display: true, autoSkip: false, maxRotation: 0, padding: 9, color: '#111', font: FONT, callback: label },
          title: { display: true, text: 'x', color: '#111', font: FONT, padding: 0 }
        }),
        xMinor: axis('bottom', p.minor, 2.5, x0, x1),
        xTop: axis('top', p.major, 5, x0, x1, { weight: 1, border: line(2, '#666') }),
        xTopMinor: axis('top', p.minor, 2.5, x0, x1),
        y: axis('left', p.major, 5, y0, y1, {
          weight: 1,
          afterFit: s => { s.width = LEFT; s.paddingTop = s.paddingBottom = 0; },
          border: line(1, p.side),
          ticks: { display: true, autoSkip: false, maxRotation: 0, padding: 12, color: '#111', font: FONT, callback: label }
        }),
        yMinor: axis('left', p.minor, 2.5, y0, y1),
        yRight: axis('right', p.major, 5, y0, y1, { weight: 1, border: line(1, p.side) }),
        yRightMinor: axis('right', p.minor, 2.5, y0, y1)
      }
    },
    plugins: [panelText]
  });
});
</script>
</body>
</html>
